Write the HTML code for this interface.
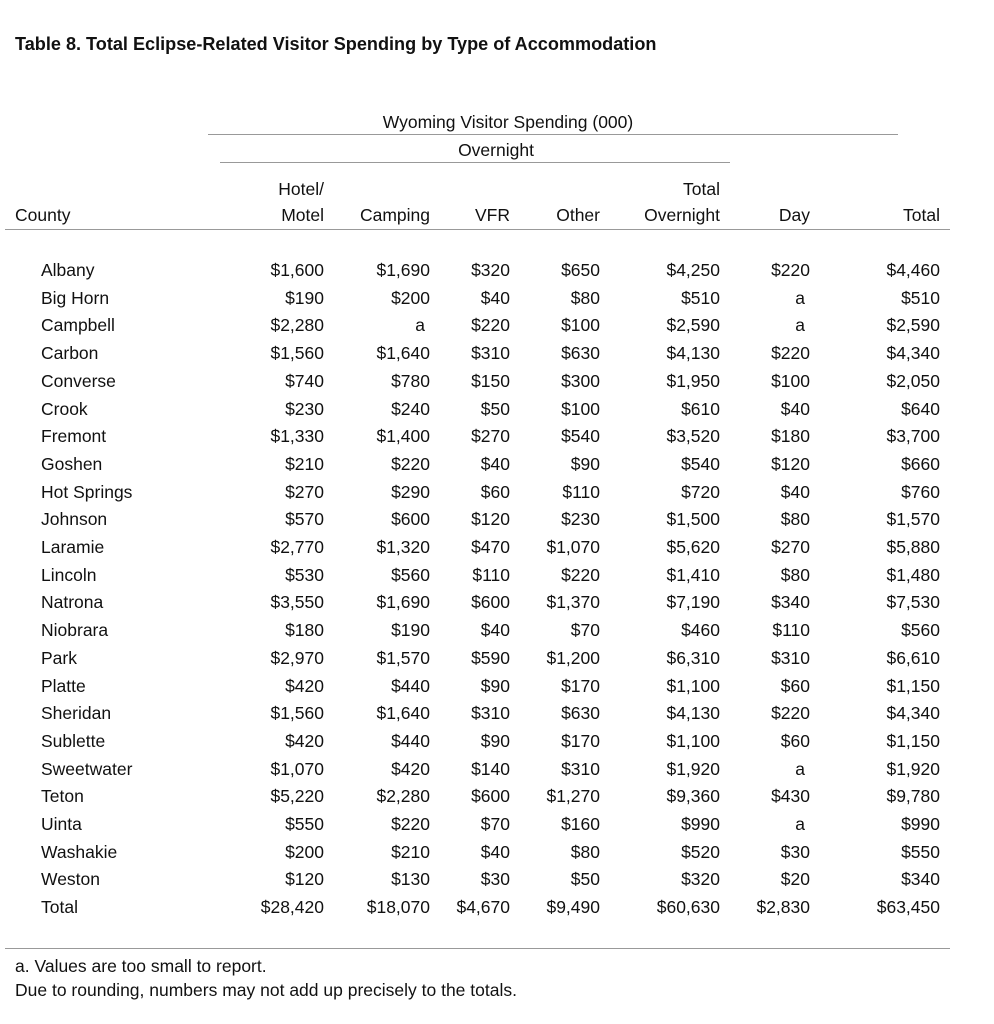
<!DOCTYPE html>
<html><head><meta charset="utf-8">
<style>
body{margin:0;background:#fff;}
#page{position:relative;width:994px;height:1024px;background:#fff;font-family:"Liberation Sans",sans-serif;color:#111;overflow:hidden;}
.t{position:absolute;white-space:nowrap;font-size:17.5px;line-height:20px;}
.r{text-align:right;}
.c{text-align:center;}
.ln{position:absolute;height:1px;background:#999;}
</style></head><body>
<div id="page">
<div class="t" style="left:15px;top:34px;font-weight:bold;font-size:18.1px;">Table 8. Total Eclipse-Related Visitor Spending by Type of Accommodation</div>
<div class="t c" style="left:208px;width:600px;top:112px;">Wyoming Visitor Spending (000)</div>
<div class="ln" style="left:208px;width:690px;top:134px;"></div>
<div class="t c" style="left:220px;width:552px;top:140px;">Overnight</div>
<div class="ln" style="left:220px;width:510px;top:162px;"></div>
<div class="ln" style="left:5px;width:945px;top:229px;"></div>
<div class="ln" style="left:5px;width:945px;top:948px;"></div>
<div class="t" style="left:15px;top:956px;font-size:17.5px;">a. Values are too small to report.</div>
<div class="t" style="left:15px;top:980px;font-size:17.5px;">Due to rounding, numbers may not add up precisely to the totals.</div>
</div>
<script>
const counties=["Albany","Big Horn","Campbell","Carbon","Converse","Crook","Fremont","Goshen","Hot Springs","Johnson","Laramie","Lincoln","Natrona","Niobrara","Park","Platte","Sheridan","Sublette","Sweetwater","Teton","Uinta","Washakie","Weston","Total"];
const hotel=["$1,600","$190","$2,280","$1,560","$740","$230","$1,330","$210","$270","$570","$2,770","$530","$3,550","$180","$2,970","$420","$1,560","$420","$1,070","$5,220","$550","$200","$120","$28,420"];
const camping=["$1,690","$200","a","$1,640","$780","$240","$1,400","$220","$290","$600","$1,320","$560","$1,690","$190","$1,570","$440","$1,640","$440","$420","$2,280","$220","$210","$130","$18,070"];
const vfr=["$320","$40","$220","$310","$150","$50","$270","$40","$60","$120","$470","$110","$600","$40","$590","$90","$310","$90","$140","$600","$70","$40","$30","$4,670"];
const other=["$650","$80","$100","$630","$300","$100","$540","$90","$110","$230","$1,070","$220","$1,370","$70","$1,200","$170","$630","$170","$310","$1,270","$160","$80","$50","$9,490"];
const totalOvernight=["$4,250","$510","$2,590","$4,130","$1,950","$610","$3,520","$540","$720","$1,500","$5,620","$1,410","$7,190","$460","$6,310","$1,100","$4,130","$1,100","$1,920","$9,360","$990","$520","$320","$60,630"];
const day=["$220","a","a","$220","$100","$40","$180","$120","$40","$80","$270","$80","$340","$110","$310","$60","$220","$60","a","$430","a","$30","$20","$2,830"];
const total=["$4,460","$510","$2,590","$4,340","$2,050","$640","$3,700","$660","$760","$1,570","$5,880","$1,480","$7,530","$560","$6,610","$1,150","$4,340","$1,150","$1,920","$9,780","$990","$550","$340","$63,450"];
const page=document.getElementById('page');
const cols=[{k:'hotel',d:hotel,r:324,h1:'Hotel/',h2:'Motel'},{k:'camping',d:camping,r:430,h2:'Camping'},{k:'vfr',d:vfr,r:510,h2:'VFR'},{k:'other',d:other,r:600,h2:'Other'},{k:'total-overnight',d:totalOvernight,r:720,h1:'Total',h2:'Overnight'},{k:'day',d:day,r:810,h2:'Day'},{k:'total',d:total,r:940,h2:'Total'}];
function txt(s,left,top,right){const e=document.createElement('div');e.className='t'+(right?' r':'');e.textContent=s;if(right){e.style.left=(left-200)+'px';e.style.width='200px';}else e.style.left=left+'px';e.style.top=top+'px';page.appendChild(e);return e;}
let e=txt('County',15,205,false);


cols.forEach(c=>{
 if(c.h1){const a=txt(c.h1,c.r,179,true);
 
 }
 const b=txt(c.h2,c.r,205,true);
 
 
});
counties.forEach((n,i)=>{
 const y=260+i*27.7;
 const ce=txt(n,41,y,false);
 
 
 cols.forEach(c=>{
  const v=c.d[i];
  const el=(v==='a')?txt(v,c.r-5,y,true):txt(v,c.r,y,true);
  
  
 });
});
</script>
</body></html>
